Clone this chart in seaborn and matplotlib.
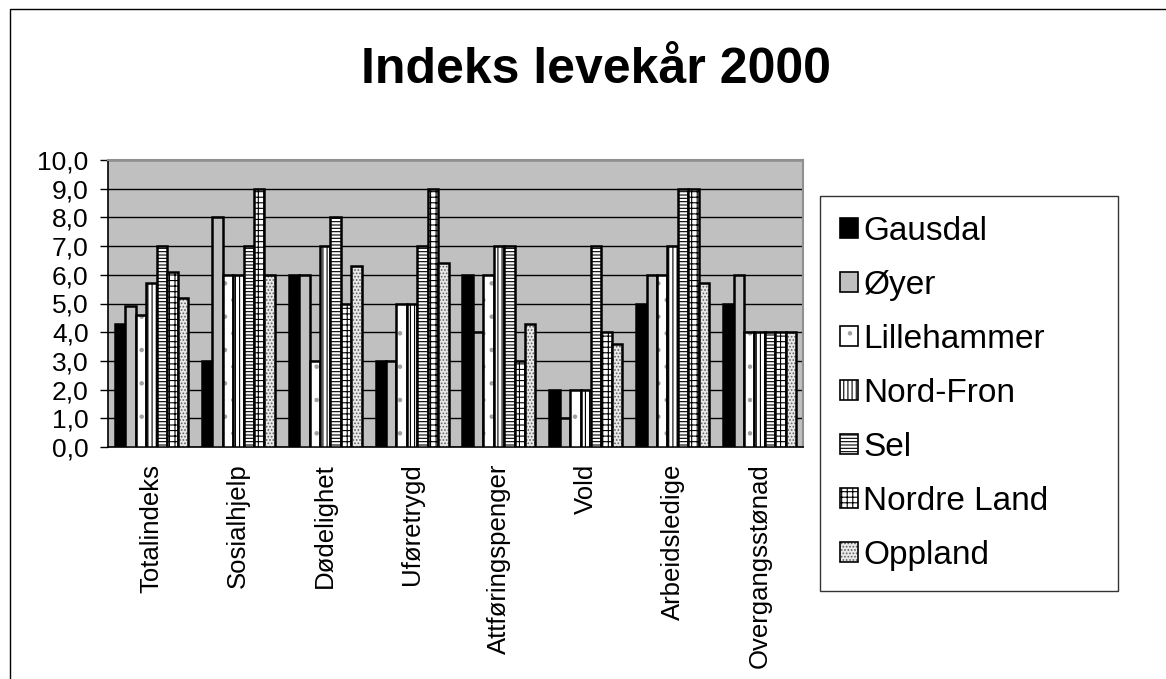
import numpy as np
import pandas as pd
import seaborn as sns
import matplotlib.pyplot as plt
import matplotlib.patches as mpatches

# data
categories = ['Totalindeks', 'Sosialhjelp', 'Dødelighet', 'Uføretrygd',
              'Attføringspenger', 'Vold', 'Arbeidsledige', 'Overgangsstønad']
kommuner = ['Gausdal', 'Øyer', 'Lillehammer', 'Nord-Fron', 'Sel', 'Nordre Land', 'Oppland']

gausdal = [4.3, 3.0, 6.0, 3.0, 6.0, 2.0, 5.0, 5.0]
oyer = [4.9, 8.0, 6.0, 3.0, 4.0, 1.0, 6.0, 6.0]
lillehammer = [4.6, 6.0, 3.0, 5.0, 6.0, 2.0, 6.0, 4.0]
nord_fron = [5.7, 6.0, 7.0, 5.0, 7.0, 2.0, 7.0, 4.0]
sel = [7.0, 7.0, 8.0, 7.0, 7.0, 7.0, 9.0, 4.0]
nordre_land = [6.1, 9.0, 5.0, 9.0, 3.0, 4.0, 9.0, 4.0]
oppland = [5.2, 6.0, 6.3, 6.4, 4.3, 3.6, 5.7, 4.0]

yticks = np.arange(0, 11, 1)
title = 'Indeks levekår 2000'

series = [gausdal, oyer, lillehammer, nord_fron, sel, nordre_land, oppland]
df = pd.DataFrame({
    'kategori': categories * len(kommuner),
    'kommune': np.repeat(kommuner, len(categories)),
    'verdi': np.concatenate(series),
})

# excel-ish fill styles: (face, hatch, hatch colour)
styles = [
    ('black', '', 'black'),
    ('#c0c0c0', '', 'black'),
    ('white', '.', '#a0a0a0'),
    ('white', '||||', 'black'),
    ('white', '-----', 'black'),
    ('white', '+++', 'black'),
    ('#e8e8e8', '.....', '#606060'),
]

sns.set_style('white')
plt.rcParams['font.family'] = ['Liberation Sans', 'DejaVu Sans']
plt.rcParams['hatch.linewidth'] = 0.8
plt.rcParams['text.color'] = 'black'
plt.rcParams['xtick.color'] = 'black'
plt.rcParams['ytick.color'] = 'black'

fig = plt.figure(figsize=(11.66, 6.79), dpi=100)
ax = fig.add_axes([108/1166, 1 - 447/679, 695/1166, 287/679])

sns.barplot(data=df, x='kategori', y='verdi', hue='kommune', order=categories,
            hue_order=kommuner, palette=[s[0] for s in styles], saturation=1,
            width=0.84, edgecolor='black', linewidth=1.8, legend=False, ax=ax, zorder=3)

handles = []
for cont, (face, hatch, hcol) in zip(ax.containers, styles):
    for bar in cont:
        bar.set_hatch(hatch)
        bar._hatch_color = plt.matplotlib.colors.to_rgba(hcol)
    h = mpatches.Patch(facecolor=face, edgecolor='black', hatch=hatch, linewidth=1.2)
    h._hatch_color = plt.matplotlib.colors.to_rgba(hcol)
    handles.append(h)

ax.set_facecolor('#c0c0c0')
ax.set_ylim(0, 10)
ax.set_xlim(-0.5, len(categories) - 0.5)
ax.set_yticks(yticks)
ax.set_yticklabels([f'{v:.1f}'.replace('.', ',') for v in yticks], fontsize=19)
ax.yaxis.grid(True, color='black', linewidth=1)
ax.set_axisbelow(True)
ax.set_xlabel('')
ax.set_ylabel('')

# ticks between the categories, like excel
ax.set_xticks(np.arange(len(categories)))
ax.set_xticklabels(categories, rotation=90, fontsize=18.5, va='top')
ax.set_xticks(np.arange(-0.5, len(categories)), minor=True)
ax.tick_params(axis='x', which='major', length=0, pad=12)
ax.tick_params(axis='x', which='minor', length=7, width=1, color='black', direction='out')
ax.tick_params(axis='y', length=6, width=1, color='black', direction='out', left=True, pad=8)

for side in ['top', 'right']:
    ax.spines[side].set_color('#909090')
    ax.spines[side].set_linewidth(1.5)
for side in ['left', 'bottom']:
    ax.spines[side].set_color('black')
    ax.spines[side].set_linewidth(1.2)

fig.text(596/1166, 1 - 70/679, title, fontsize=36, fontweight='bold', ha='center', va='center')

leg = fig.legend(handles, kommuner, loc='upper left', mode='expand',
                 bbox_to_anchor=(820/1166, 1 - 588/679, 298/1166, 392/679), fontsize=24,
                 frameon=True, fancybox=False, edgecolor='black',
                 handlelength=0.55, handleheight=0.55, handletextpad=0.15,
                 labelspacing=0.69, borderpad=0.6, borderaxespad=0)
leg.get_frame().set_linewidth(1)

# chart area border (only top and left visible in the original)
fig.add_artist(mpatches.Rectangle((10/1166, -0.1), 1.2, 1.1 - 10/679 + 0.001,
                                  transform=fig.transFigure, fill=False,
                                  edgecolor='black', linewidth=1))

fig.savefig('out.png', dpi=100)
